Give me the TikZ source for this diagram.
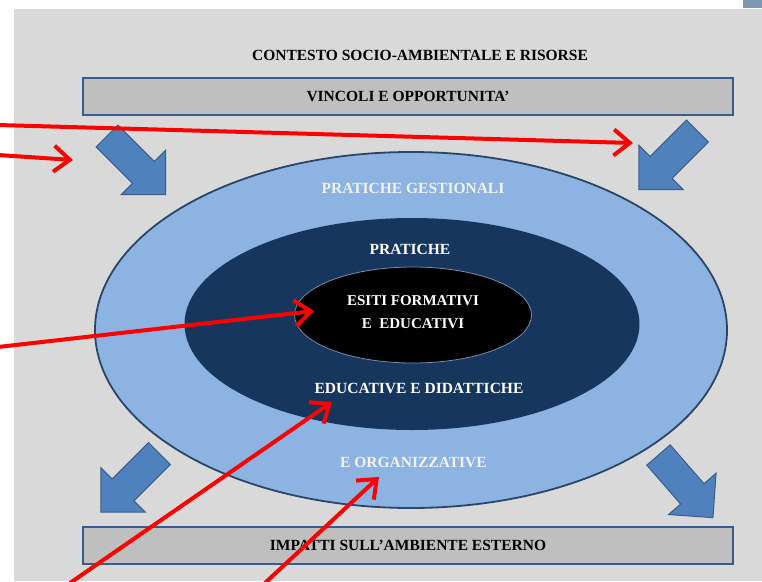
\documentclass[tikz,border=0pt]{standalone}
\usepackage{fontspec}
\setmainfont{Liberation Serif}
\usetikzlibrary{arrows.meta, positioning, shapes.geometric}

\definecolor{sfondo}{HTML}{D9D9D9}
\definecolor{boxgray}{HTML}{BFBFBF}
\definecolor{bordo}{HTML}{385D8A}
\definecolor{celeste}{HTML}{8DB3E2}
\definecolor{navy}{HTML}{17365D}
\definecolor{frecciablu}{HTML}{4F81BD}
\definecolor{testochiaro}{HTML}{F2F2F2}
\definecolor{angolo}{HTML}{7F98B3}

% block arrow: tail centre, rotation
\newcommand{\frecciona}[2]{%
  \draw[blockarrow, shift={#1}, rotate=#2]
    (0,15.5) -- (51.5,15.5) -- (51.5,31.5) -- (83,0)
    -- (51.5,-31.5) -- (51.5,-15.5) -- (0,-15.5) -- cycle;}

\begin{document}
\begin{tikzpicture}[
  x=1pt, y=-1pt,
  txt/.style={font=\bfseries\fontsize{15.5}{18}\selectfont},
  fascia/.style={txt,rectangle,draw=bordo,line width=1.5pt,fill=boxgray,
    minimum width=650pt,minimum height=37pt,inner sep=0pt},
  anello/.style={ellipse,inner sep=0pt},
  etichetta/.style={txt,text=testochiaro},
  blockarrow/.style={fill=frecciablu,draw=bordo,line width=1pt},
  rossa/.style={draw=red,line width=4pt,-{Straight Barb[length=16pt,width=26pt]}}
]
\useasboundingbox (0,0) rectangle (762,581);

% --- Background ---
\fill[sfondo] (14,9) rectangle (762,581);
\fill[angolo] (743,0) rectangle (762,8);

% --- Context and boxes ---
\node[txt] (contesto) at (420,55) {CONTESTO SOCIO-AMBIENTALE E RISORSE};
\node[fascia] (vincoli) at (408,96.5) {VINCOLI E OPPORTUNITA’};
\node[fascia] (impatti) at (408,545.5) {IMPATTI SULL’AMBIENTE ESTERNO};

% --- Ellipses ---
\node[anello,draw=bordo!75!black,line width=1.8pt,fill=celeste,
  minimum width=632pt,minimum height=356pt] (gestionali) at (411,330) {};
\node[anello,fill=navy,minimum width=455pt,minimum height=212pt] (pratiche) at (412,324) {};
\node[anello,fill=black,draw=bordo!70!white,line width=0.8pt,
  minimum width=237pt,minimum height=96pt] (esiti) at (413,315) {};

\node[etichetta] (txtgest) at (413,188) {PRATICHE GESTIONALI};
\node[etichetta,text=white] (txtprat) at (410,249) {PRATICHE};
\node[etichetta,text=white,align=center,font=\bfseries\fontsize{15}{23}\selectfont]
  (txtesiti) at (413,312.5) {ESITI FORMATIVI\\E\ \ EDUCATIVI};
\node[etichetta,text=white] (txtdid) at (419,388) {EDUCATIVE E DIDATTICHE};
\node[etichetta] (txtorg) at (413.5,462) {E ORGANIZZATIVE};

% --- Block arrows ---
\frecciona{(107,136)}{-45}
\frecciona{(697.5,131)}{-135}
\frecciona{(159.5,453.5)}{-135}
\frecciona{(658.5,455)}{-49}

% --- Red pointers ---
\coordinate (r1a) at (-2,125);  \coordinate (r1b) at (633,143);
\coordinate (r2a) at (-2,155);  \coordinate (r2b) at (73,160);
\coordinate (r3a) at (-2,347);  \coordinate (r3b) at (314,311);
\coordinate (r4a) at (70,583);  \coordinate (r4b) at (332,402);
\coordinate (r5a) at (265,583); \coordinate (r5b) at (379,477);

\draw[rossa] (r1a) -- (r1b);
\draw[rossa] (r2a) -- (r2b);
\draw[rossa] (r3a) -- (r3b);
\draw[rossa] (r4a) -- (r4b);
\draw[rossa] (r5a) -- (r5b);

\end{tikzpicture}
\end{document}
